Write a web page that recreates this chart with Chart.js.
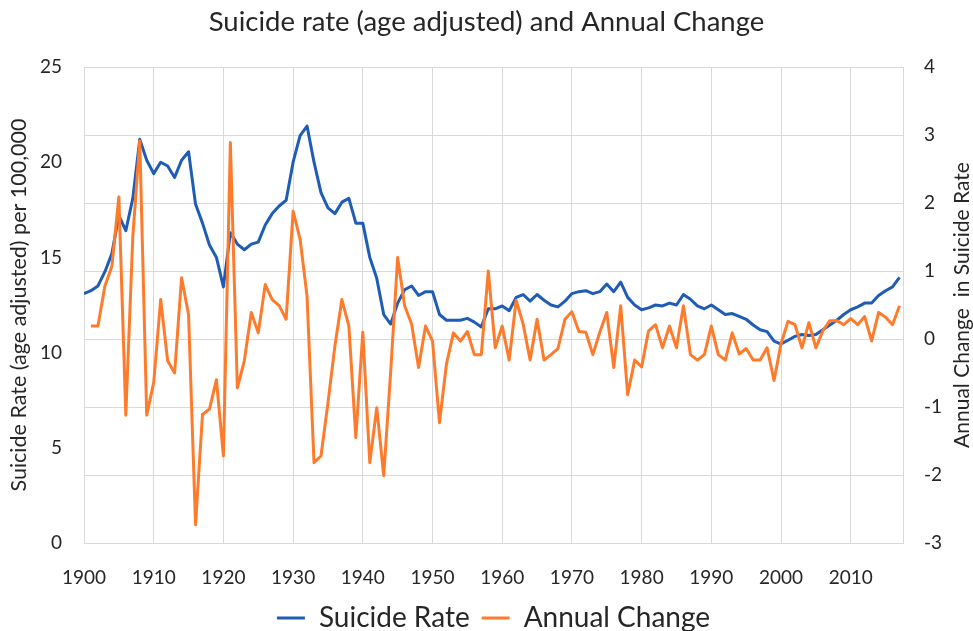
<!DOCTYPE html>
<html>
<head>
<meta charset="utf-8">
<title>Suicide rate (age adjusted) and Annual Change</title>
<script src="https://cdn.jsdelivr.net/npm/chart.js@4.4.1/dist/chart.umd.min.js"></script>
<style>
  html, body { margin: 0; padding: 0; background: #fff; }
  #wrap { width: 973px; height: 631px; }
</style>
</head>
<body>
<div id="wrap"><canvas id="myChart"></canvas></div>
<script>
// years 1900 - 2017
const years = [];
for (let y = 1900; y <= 2017; y++) years.push(y);

// age adjusted suicide rate per 100,000 (1900 - 2017)
const suicideRate = [
  13.1, 13.25, 13.5, 14.25, 15.2, 17.2, 16.4, 18.1, 21.2, 20.1,
  19.4, 20.0, 19.8, 19.2, 20.1, 20.55, 17.8, 16.8, 15.65, 15.0,
  13.45, 16.3, 15.7, 15.4, 15.7, 15.8, 16.7, 17.3, 17.7, 18.0,
  20.0, 21.4, 21.9, 20.0, 18.4, 17.6, 17.3, 17.9, 18.1, 16.8,
  16.8, 15.0, 13.9, 12.0, 11.5, 12.6, 13.3, 13.5, 13.0, 13.2,
  13.2, 12.0, 11.7, 11.7, 11.7, 11.8, 11.6, 11.35, 12.3, 12.3,
  12.45, 12.2, 12.9, 13.05, 12.7, 13.05, 12.75, 12.5, 12.4, 12.7,
  13.1, 13.2, 13.25, 13.1, 13.2, 13.6, 13.2, 13.7, 12.9, 12.5,
  12.25, 12.35, 12.5, 12.45, 12.6, 12.5, 13.05, 12.8, 12.45, 12.3,
  12.5, 12.25, 12.0, 12.05, 11.9, 11.75, 11.45, 11.2, 11.1, 10.6,
  10.45, 10.65, 10.85, 10.95, 10.9, 10.95, 11.2, 11.45, 11.7, 12.0,
  12.25, 12.4, 12.6, 12.6, 13.0, 13.25, 13.45, 13.95
];

// annual change in suicide rate (1901 - 2017)
const annualChange = [
  0.19, 0.19, 0.78, 1.07, 2.09, -1.12, 1.5, 2.91, -1.12,
  -0.64, 0.58, -0.32, -0.5, 0.9, 0.36, -2.73, -1.11, -1.03, -0.6,
  -1.72, 2.89, -0.72, -0.32, 0.39, 0.09, 0.8, 0.58, 0.49, 0.29,
  1.88, 1.47, 0.63, -1.82, -1.72, -0.94, -0.1, 0.58, 0.19, -1.45,
  0.1, -1.82, -1.01, -2.01, -0.48, 1.2, 0.49, 0.22, -0.42, 0.19,
  -0.03, -1.23, -0.37, 0.09, -0.03, 0.11, -0.23, -0.23, 1.0, -0.13,
  0.19, -0.31, 0.57, 0.22, -0.31, 0.29, -0.31, -0.23, -0.14, 0.29,
  0.4, 0.11, 0.1, -0.23, 0.1, 0.39, -0.42, 0.49, -0.82, -0.31,
  -0.41, 0.12, 0.21, -0.13, 0.19, -0.13, 0.49, -0.23, -0.31, -0.23,
  0.19, -0.23, -0.31, 0.09, -0.22, -0.14, -0.31, -0.31, -0.13, -0.61,
  -0.07, 0.26, 0.21, -0.13, 0.24, -0.13, 0.12, 0.27, 0.27, 0.21,
  0.3, 0.21, 0.33, -0.03, 0.39, 0.32, 0.21, 0.49
];

const xTicks = [1900, 1910, 1920, 1930, 1940, 1950, 1960, 1970, 1980, 1990, 2000, 2010];

const FONT = 'Lato';
const TEXT = '#262626';
const GRID = '#d9d9d9';

// right axis title reads bottom to top like Excel
const rightTitle = {
  id: 'rightTitle',
  afterDraw(chart) {
    const { ctx, chartArea } = chart;
    ctx.save();
    ctx.translate(chart.width - 11, (chartArea.top + chartArea.bottom) / 2);
    ctx.rotate(-Math.PI / 2);
    ctx.font = '21px ' + FONT;
    ctx.fillStyle = TEXT;
    ctx.textAlign = 'center';
    ctx.textBaseline = 'middle';
    ctx.fillText('Annual Change  in Suicide Rate', 0, 0);
    ctx.restore();
  }
};

const ctx = document.getElementById('myChart').getContext('2d');

const myChart = new Chart(ctx, {
  type: 'line',
  data: {
    datasets: [{
      label: 'Suicide Rate',
      data: years.map((y, i) => ({ x: y, y: suicideRate[i] })),
      borderColor: '#1f5cb6',
      backgroundColor: '#1f5cb6',
      borderWidth: 3,
      pointRadius: 0,
      tension: 0,
      borderJoinStyle: 'round',
      yAxisID: 'y',
      order: 1
    }, {
      label: 'Annual Change',
      data: years.slice(1).map((y, i) => ({ x: y, y: annualChange[i] })),
      borderColor: '#ff7b2c',
      backgroundColor: '#ff7b2c',
      borderWidth: 3,
      pointRadius: 0,
      tension: 0,
      borderJoinStyle: 'round',
      yAxisID: 'y2',
      order: 0
    }]
  },
  options: {
    responsive: true,
    maintainAspectRatio: false,
    animation: false,
    devicePixelRatio: 1,
    layout: { padding: { top: 0, left: 0, right: 0, bottom: -11 } },
    plugins: {
      title: {
        display: true,
        text: 'Suicide rate (age adjusted) and Annual Change',
        color: TEXT,
        font: { family: FONT, size: 27.5, weight: 'normal' },
        padding: { top: 6, bottom: 28 }
      },
      legend: {
        position: 'bottom',
        fullSize: false,
        labels: {
          color: TEXT,
          font: { family: FONT, size: 28 },
          usePointStyle: true,
          pointStyle: 'line',
          pointStyleWidth: 28,
          padding: 12,
          sort: (a, b) => a.datasetIndex - b.datasetIndex
        }
      },
      tooltip: { enabled: false }
    },
    scales: {
      x: {
        type: 'linear',
        min: 1900,
        max: 2017.5,
        afterBuildTicks: s => { s.ticks = xTicks.map(v => ({ value: v })); },
        afterFit: s => { s.height = 49; },
        grid: { color: GRID, lineWidth: 1, drawTicks: false },
        border: { color: GRID },
        ticks: {
          color: TEXT,
          font: { family: FONT, size: 19 },
          padding: 23,
          maxRotation: 0,
          callback: v => String(v)
        }
      },
      y: {
        position: 'left',
        min: 0,
        max: 25,
        afterFit: s => { s.width = 84; },
        grid: { display: false, drawTicks: false },
        border: { display: true, color: GRID },
        ticks: {
          stepSize: 5,
          color: TEXT,
          font: { family: FONT, size: 19 },
          padding: 22
        },
        title: {
          display: true,
          text: 'Suicide Rate (age adjusted) per 100,000',
          color: TEXT,
          font: { family: FONT, size: 21.5 },
          padding: { top: 6, bottom: 0 }
        }
      },
      y2: {
        position: 'right',
        min: -3,
        max: 4,
        afterFit: s => { s.width = 70; },
        grid: { color: GRID, lineWidth: 1, drawTicks: false },
        border: { display: true, color: GRID },
        ticks: {
          stepSize: 1,
          color: TEXT,
          font: { family: FONT, size: 19 },
          padding: 21
        }
      }
    }
  },
  plugins: [rightTitle]
});
</script>
</body>
</html>
